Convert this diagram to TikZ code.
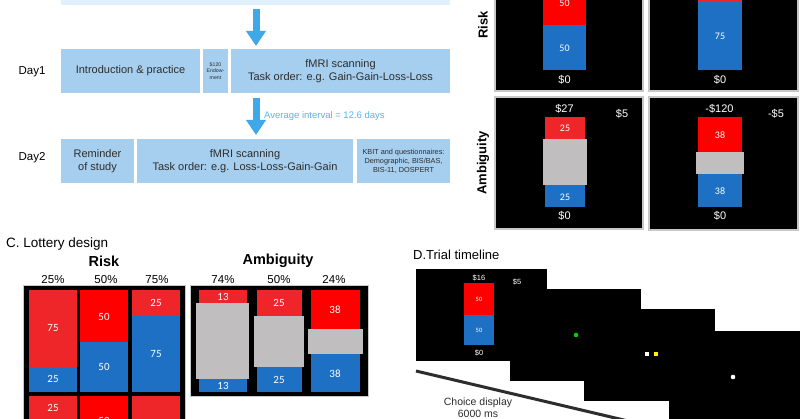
\documentclass[tikz,border=0pt]{standalone}
\usepackage{fontspec}
\setmainfont{Liberation Sans}
\newfontfamily\calib{Carlito}
\usetikzlibrary{arrows.meta}
\definecolor{boxblue}{RGB}{166,206,238}
\definecolor{bannerblue}{RGB}{224,241,251}
\definecolor{arrowblue}{RGB}{62,168,232}
\definecolor{txtblue}{RGB}{90,180,236}
\definecolor{lred}{RGB}{238,38,42}
\definecolor{pred}{RGB}{255,0,0}
\definecolor{lblue}{RGB}{30,112,196}
\definecolor{lgray}{RGB}{192,190,190}
\definecolor{framegray}{RGB}{200,200,200}
\definecolor{darktxt}{RGB}{45,45,45}
\tikzset{
  daybox/.style={fill=boxblue, inner sep=0pt, outer sep=0pt, anchor=north west, text=darktxt, align=center},
  bigarrow/.style={draw=arrowblue, line width=7pt, -{Triangle[width=19pt,length=15pt]}},
  daylbl/.style={font=\fontsize{11.5}{14}\selectfont, text=black},
  boxtxt/.style={font=\fontsize{11}{13.5}\selectfont},
  screen/.style={fill=black, draw=framegray, line width=1.2pt},
  wtxt/.style={text=white, font=\fontsize{11}{13}\selectfont, inner sep=0pt},
  numtxt/.style={text=white, font=\calib\fontsize{10}{12}\selectfont, inner sep=0pt},
  cnum/.style={text=white, font=\calib\fontsize{11}{12}\selectfont, inner sep=0pt},
  rowlbl/.style={rotate=90, font=\bfseries\fontsize{13}{15}\selectfont, inner sep=0pt},
  pct/.style={font=\fontsize{11.5}{13}\selectfont, inner sep=0pt},
  head/.style={font=\bfseries\fontsize{14.5}{16}\selectfont, inner sep=0pt},
  sect/.style={font=\fontsize{13.5}{15}\selectfont, anchor=west, inner sep=0pt},
  tscreen/.style={fill=black},
  smtxt/.style={text=white, font=\fontsize{7.5}{9}\selectfont, inner sep=0pt},
  tinynum/.style={text=white, font=\calib\fontsize{6.5}{8}\selectfont, inner sep=0pt}
}
\begin{document}
\begin{tikzpicture}[x=1pt,y=-1pt]
\clip (0,0) rectangle (800,419);
\fill[white] (0,0) rectangle (800,419);

% ---------- A: schedule ----------
\node[daybox, fill=bannerblue, minimum width=389pt, minimum height=10pt] (banner) at (61,-5) {};
\node[daylbl] (day1) at (32,72) {Day1};
\node[daybox, minimum width=139pt, minimum height=44pt, boxtxt] (intro) at (61,49) {Introduction \& practice};
\node[daybox, minimum width=25pt, minimum height=44pt, font=\fontsize{5.2}{6.2}\selectfont] (endow) at (203,49) {\$120\\Endow-\\ment};
\node[daybox, minimum width=219pt, minimum height=44pt, boxtxt] (scan1) at (231,49) {fMRI scanning\\Task order: e.g. Gain-Gain-Loss-Loss};

\node[daylbl] (day2) at (32,158) {Day2};
\node[daybox, minimum width=73pt, minimum height=44pt, boxtxt] (remind) at (61,139) {Reminder\\of study};
\node[daybox, minimum width=216pt, minimum height=44pt, boxtxt] (scan2) at (137,139) {fMRI scanning\\Task order: e.g. Loss-Loss-Gain-Gain};
\node[daybox, minimum width=93pt, minimum height=44pt, font=\fontsize{7.3}{9}\selectfont] (kbit) at (357,139) {KBIT and questionnaires:\\Demographic, BIS/BAS,\\BIS-11, DOSPERT};

\coordinate (a1s) at (256,9);
\coordinate (a1e) at (256,46);
\coordinate (a2s) at (256,98);
\coordinate (a2e) at (256,135);
\draw[bigarrow] (a1s) -- (a1e);
\draw[bigarrow] (a2s) -- (a2e);
\node[anchor=west, text=txtblue, font=\fontsize{9.5}{11}\selectfont, inner sep=0pt] (interval) at (264,116) {Average interval = 12.6 days};

% ---------- B: example screens ----------
\node[rowlbl] (risklbl) at (483,25) {Risk};
\node[rowlbl] (amblbl) at (483,163) {Ambiguity};

% risk panel 1
\filldraw[screen] (495,-10) rectangle (643,91);
\fill[pred] (543,-10) rectangle (586,25);
\fill[lblue] (543,25) rectangle (586,70);
\node[numtxt] (r1a) at (564.5,3) {50};
\node[numtxt] (r1b) at (564.5,48) {50};
\node[wtxt] (r1z) at (564.5,80) {\$0};
% risk panel 2
\filldraw[screen] (649,-10) rectangle (798,91);
\fill[lred] (698,-10) rectangle (742,2);
\fill[lblue] (698,2) rectangle (742,70);
\node[numtxt] (r2b) at (720,36) {75};
\node[wtxt] (r2z) at (720,80) {\$0};

% ambiguity panel 1
\filldraw[screen] (495,97) rectangle (643,229);
\node[wtxt] (a1top) at (564.5,109) {\$27};
\node[wtxt] (a1side) at (622,114) {\$5};
\fill[lred] (545,117) rectangle (585,139);
\fill[lblue] (545,185) rectangle (585,207);
\fill[lgray] (543,139) rectangle (587,185);
\node[numtxt] (a1r) at (565,128) {25};
\node[numtxt] (a1b) at (565,197) {25};
\node[wtxt] (a1z) at (564.5,216) {\$0};
% ambiguity panel 2
\filldraw[screen] (649,97) rectangle (798,230);
\node[wtxt] (a2top) at (719.5,109) {-\$120};
\node[wtxt] (a2side) at (776,114) {-\$5};
\fill[pred] (698,117) rectangle (742,152);
\fill[lblue] (698,174) rectangle (742,207);
\fill[lgray] (696,152) rectangle (744,174);
\node[numtxt] (a2r) at (720,135) {38};
\node[numtxt] (a2b) at (720,191) {38};
\node[wtxt] (a2z) at (720,216) {\$0};

% ---------- C: lottery design ----------
\node[sect] (csect) at (6,244) {C. Lottery design};
\node[head] (riskhead) at (104,261) {Risk};
\node[head] (ambhead) at (278,261) {Ambiguity};
\node[pct] (p25) at (53,280) {25\%};
\node[pct] (p50) at (106,280) {50\%};
\node[pct] (p75) at (157,280) {75\%};
\node[pct] (p74) at (223,280) {74\%};
\node[pct] (p50b) at (279,280) {50\%};
\node[pct] (p24) at (334,280) {24\%};

\filldraw[fill=black, draw=framegray, line width=0.8pt] (23,285) rectangle (185,430);
% row 1
\fill[lred] (29,290) rectangle (77,367);
\fill[lblue] (29,367) rectangle (77,392);
\fill[pred] (80,290) rectangle (128,342);
\fill[lblue] (80,342) rectangle (128,392);
\fill[lred] (132,290) rectangle (180,316);
\fill[lblue] (132,316) rectangle (180,392);
\node[cnum] (c11r) at (53,328) {75};
\node[cnum] (c11b) at (53,379) {25};
\node[cnum] (c12r) at (104,317) {50};
\node[cnum] (c12b) at (104,367) {50};
\node[cnum] (c13r) at (156,303) {25};
\node[cnum] (c13b) at (156,354) {75};
% row 2
\fill[lred] (29,396) rectangle (77,430);
\fill[pred] (80,396) rectangle (128,430);
\fill[lred] (132,396) rectangle (180,430);
\node[cnum] (c21r) at (53,408) {25};
\node[cnum] (c22r) at (104,421) {50};

\filldraw[fill=black, draw=framegray, line width=0.8pt] (190,285) rectangle (368,396);
\fill[lred] (199,290) rectangle (247,303);
\fill[lblue] (199,379) rectangle (247,392);
\fill[lgray] (196,303) rectangle (249,379);
\fill[lred] (257,290) rectangle (302,316);
\fill[lblue] (257,367) rectangle (302,392);
\fill[lgray] (254,316) rectangle (304,367);
\fill[pred] (311,290) rectangle (360,329);
\fill[lblue] (311,354) rectangle (360,392);
\fill[lgray] (308,329) rectangle (363,354);
\node[cnum] (d1r) at (223,297) {13};
\node[cnum] (d1b) at (223,386) {13};
\node[cnum] (d2r) at (279,303) {25};
\node[cnum] (d2b) at (279,380) {25};
\node[cnum] (d3r) at (335,310) {38};
\node[cnum] (d3b) at (335,374) {38};

% ---------- D: trial timeline ----------
\node[sect, font=\fontsize{13}{15}\selectfont] (dsect) at (413,255) {D.Trial timeline};
\fill[tscreen] (669,331) rectangle (805,425);
\fill[tscreen] (584,309) rectangle (715,401);
\fill[tscreen] (510,289) rectangle (641,381);
\fill[tscreen] (416,269) rectangle (547,361);
\node[smtxt] (t16) at (479,278) {\$16};
\node[smtxt] (t5) at (517,282) {\$5};
\fill[pred] (464,283) rectangle (494,315);
\fill[lblue] (464,315) rectangle (494,345);
\node[tinynum] (tr) at (479,299) {50};
\node[tinynum] (tb) at (479,330) {50};
\node[smtxt] (t0) at (479,353) {\$0};
\fill[green!80!black] (576,335) circle (2.3);
\fill[white] (645,352) rectangle (649,356);
\fill[yellow] (654,352) rectangle (658,356);
\fill[white] (733,377) circle (2.3);

\coordinate (tl1) at (416,371);
\coordinate (tl2) at (645,425);
\draw[darktxt, line width=3pt] (tl1) -- (tl2);
\node[align=center, font=\fontsize{10.5}{12}\selectfont, text=darktxt, inner sep=0pt, anchor=north] (choice) at (478,398) {Choice display\\6000 ms};
\end{tikzpicture}
\end{document}
